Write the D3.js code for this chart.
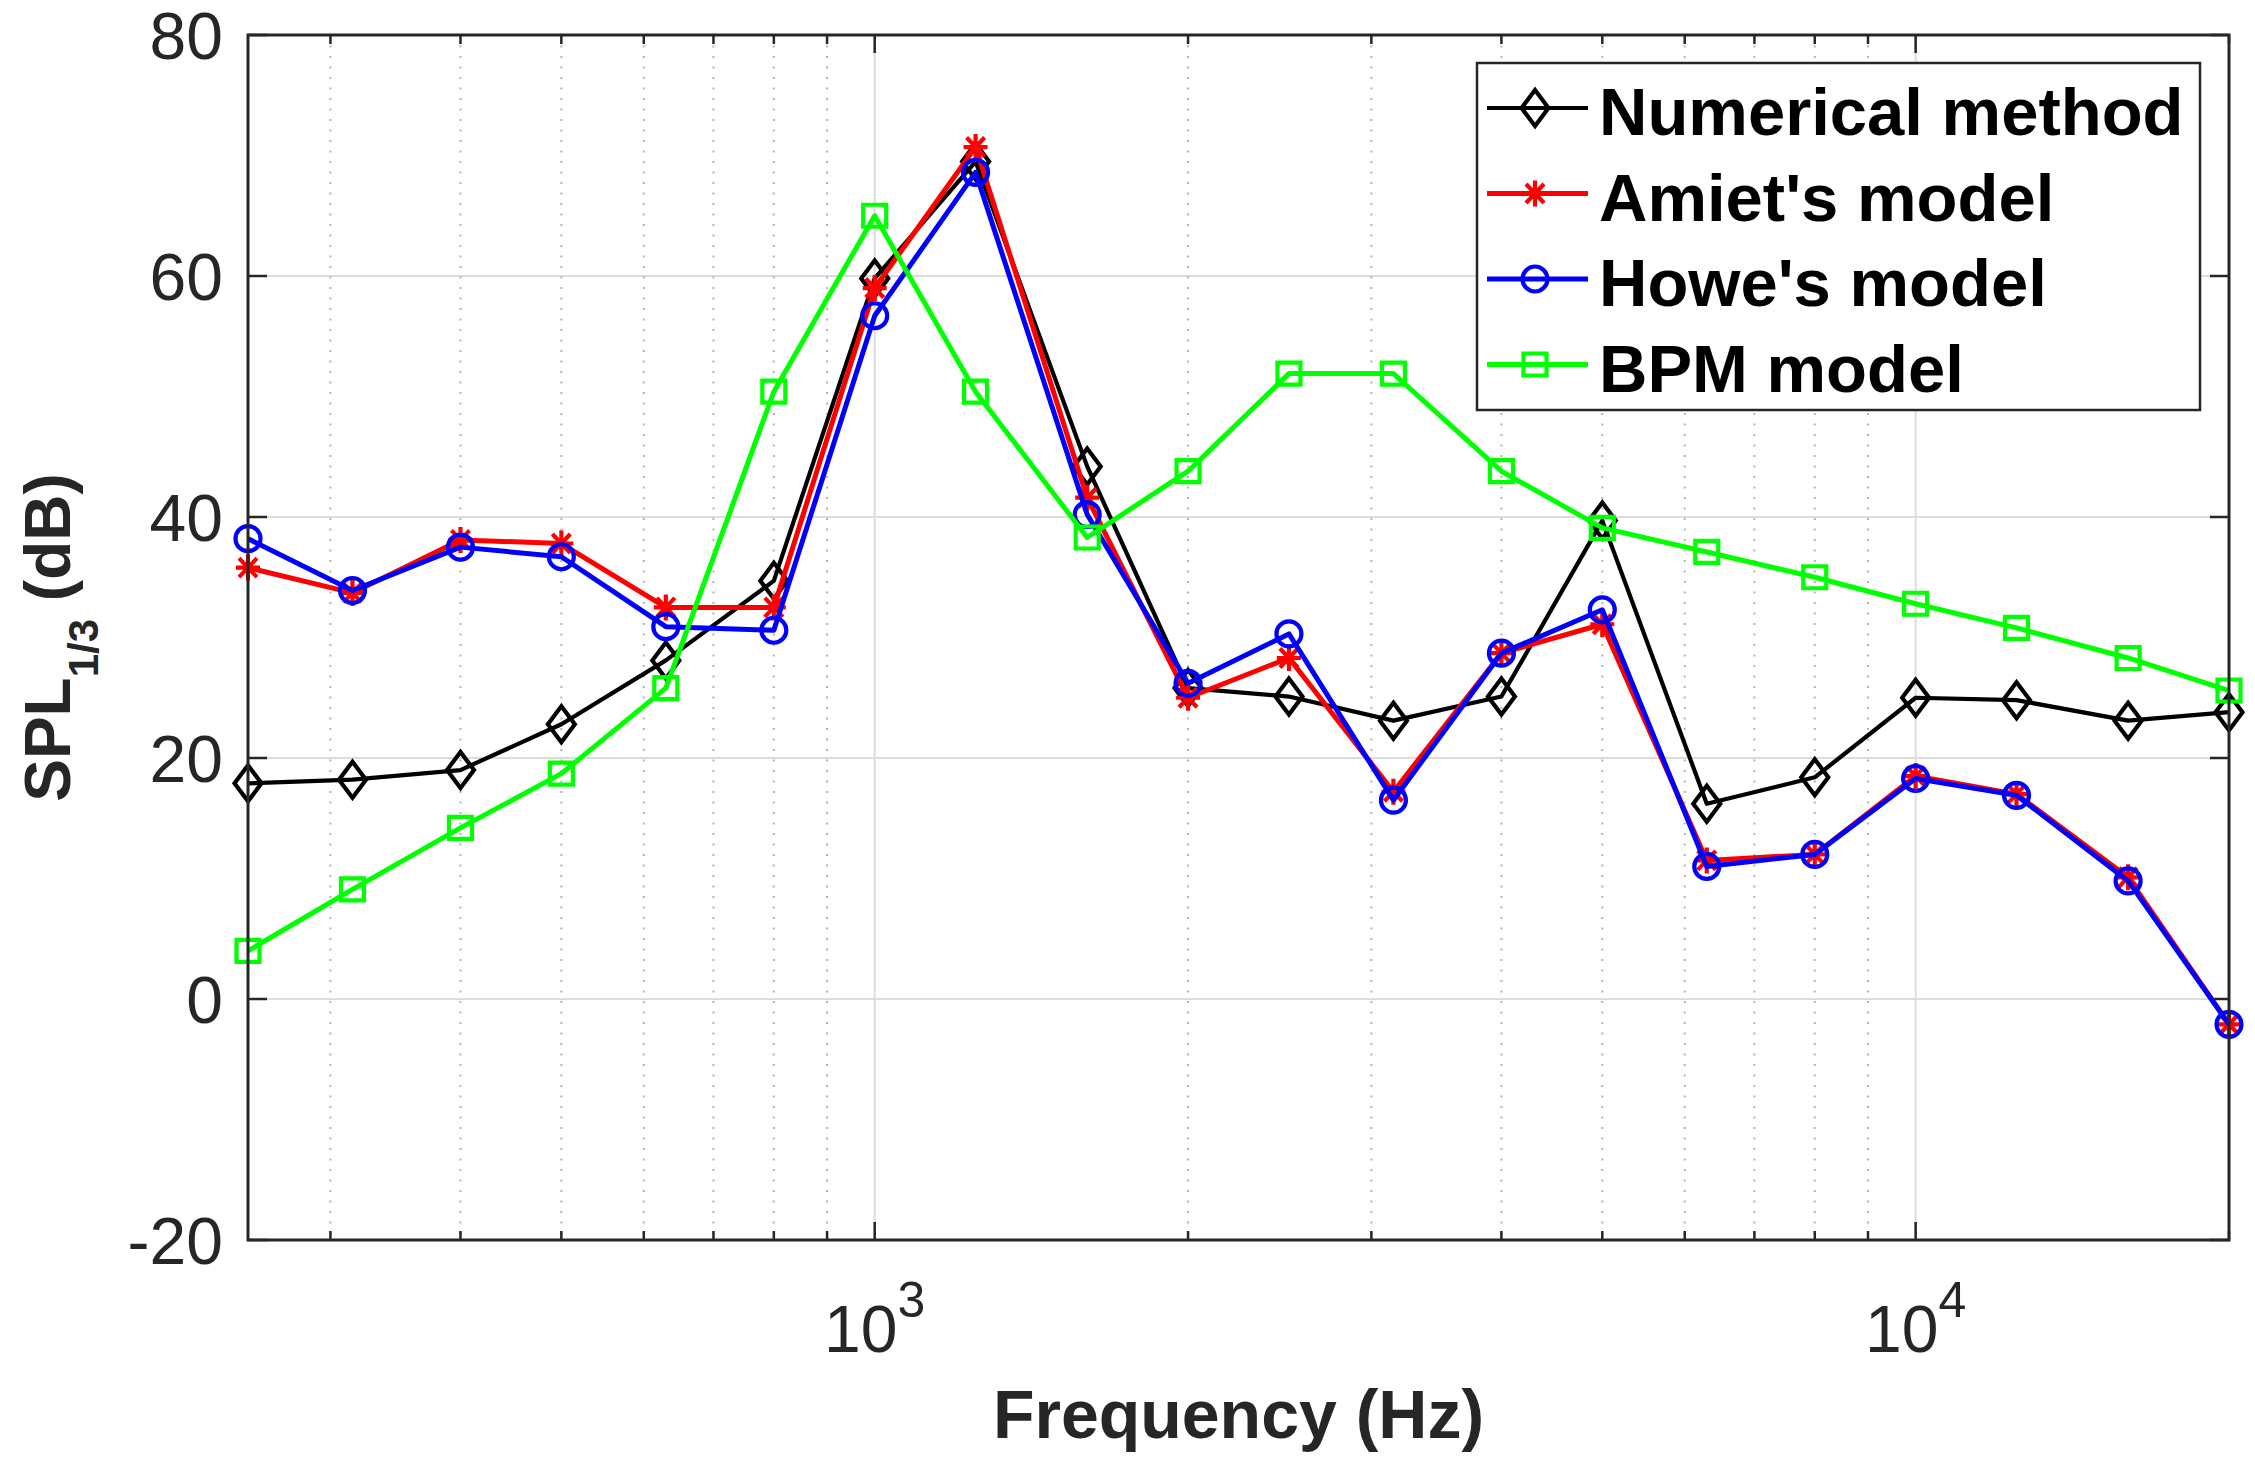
<!DOCTYPE html>
<html>
<head>
<meta charset="utf-8">
<script src="https://cdn.jsdelivr.net/npm/d3@7"></script>
<style>
  html, body { margin: 0; padding: 0; background: #fff; }
  svg text { font-family: "Liberation Sans", Arial, Helvetica, sans-serif; fill: #262626; }
</style>
</head>
<body>
<svg id="chart" width="2255" height="1466"></svg>
<script>
// third-octave band centres (Hz)
const freqs = [250, 315, 400, 500, 630, 800, 1000, 1250, 1600, 2000, 2500, 3150, 4000, 5000, 6300, 8000, 10000, 12500, 16000, 20000];

// SPL 1/3 (dB)
const numerical = [17.9, 18.2, 19.0, 22.8, 28.1, 34.7, 59.8, 69.5, 44.2, 25.8, 25.1, 23.1, 25.1, 39.7, 16.2, 18.4, 25.0, 24.8, 23.1, 23.8];
const amiet     = [35.8, 33.7, 38.1, 37.8, 32.5, 32.5, 59.0, 70.7, 41.6, 25.0, 28.3, 17.2, 28.7, 31.1, 11.5, 12.0, 18.5, 17.0, 10.1, -2.1];
const howe      = [38.2, 33.9, 37.5, 36.7, 30.9, 30.6, 56.7, 68.6, 40.2, 26.2, 30.3, 16.5, 28.7, 32.3, 11.0, 12.0, 18.3, 16.9, 9.8, -2.1];
const bpm       = [4.0, 9.1, 14.2, 18.7, 25.8, 50.4, 65.0, 50.4, 38.3, 43.8, 51.9, 51.9, 43.8, 39.1, 37.1, 35.0, 32.8, 30.8, 28.3, 25.6];

const seriesNames = ["Numerical method", "Amiet's model", "Howe's model", "BPM model"];
const yTicks = [-20, 0, 20, 40, 60, 80];
const xMajor = [1000, 10000];
const xMinor = [300, 400, 500, 600, 700, 800, 900, 2000, 3000, 4000, 5000, 6000, 7000, 8000, 9000, 20000];

const series = [
  { name: seriesNames[0], values: numerical, color: "#000000", marker: "diamond", width: 4.2 },
  { name: seriesNames[1], values: amiet, color: "#ff0000", marker: "asterisk", width: 5 },
  { name: seriesNames[2], values: howe, color: "#0000ff", marker: "circle", width: 5 },
  { name: seriesNames[3], values: bpm, color: "#00ff00", marker: "square", width: 5 }
];

const svg = d3.select("#chart");
const pLeft = 248, pRight = 2229, pTop = 35, pBottom = 1240;

const x = d3.scaleLog().domain([250, 20000]).range([pLeft, pRight]);
const y = d3.scaleLinear().domain([-20, 80]).range([pBottom, pTop]);

// grid
const grid = svg.append("g");
grid.selectAll("line.h").data(yTicks).join("line")
  .attr("x1", pLeft).attr("x2", pRight)
  .attr("y1", d => y(d)).attr("y2", d => y(d))
  .attr("stroke", "#dcdcdc").attr("stroke-width", 2);
grid.selectAll("line.vmaj").data(xMajor).join("line")
  .attr("x1", d => x(d)).attr("x2", d => x(d))
  .attr("y1", pTop).attr("y2", pBottom)
  .attr("stroke", "#dcdcdc").attr("stroke-width", 2);
grid.selectAll("line.vmin").data(xMinor).join("line")
  .attr("x1", d => x(d)).attr("x2", d => x(d))
  .attr("y1", pTop).attr("y2", pBottom)
  .attr("stroke", "#b4b4b4").attr("stroke-width", 2)
  .attr("stroke-dasharray", "2 8.5");

// ticks (inward, all four sides)
const ticks = svg.append("g").attr("stroke", "#262626").attr("stroke-width", 2.5);
yTicks.forEach(t => {
  ticks.append("line").attr("x1", pLeft).attr("x2", pLeft + 19).attr("y1", y(t)).attr("y2", y(t));
  ticks.append("line").attr("x1", pRight).attr("x2", pRight - 19).attr("y1", y(t)).attr("y2", y(t));
});
xMajor.forEach(t => {
  ticks.append("line").attr("x1", x(t)).attr("x2", x(t)).attr("y1", pBottom).attr("y2", pBottom - 18);
  ticks.append("line").attr("x1", x(t)).attr("x2", x(t)).attr("y1", pTop).attr("y2", pTop + 18);
});
xMinor.forEach(t => {
  ticks.append("line").attr("x1", x(t)).attr("x2", x(t)).attr("y1", pBottom).attr("y2", pBottom - 9);
  ticks.append("line").attr("x1", x(t)).attr("x2", x(t)).attr("y1", pTop).attr("y2", pTop + 9);
});

// tick labels
svg.append("g").selectAll("text").data(yTicks).join("text")
  .attr("x", pLeft - 25).attr("y", d => y(d) + 24)
  .attr("text-anchor", "end").attr("font-size", 66)
  .text(d => d);

const xl = svg.append("g").selectAll("text").data(xMajor).join("text")
  .attr("x", d => x(d)).attr("y", 1352)
  .attr("text-anchor", "middle").attr("font-size", 66);
xl.append("tspan").text("10");
xl.append("tspan").attr("font-size", 50).attr("dy", -35).text(d => Math.round(Math.log10(d)));

// axis labels
svg.append("text")
  .attr("x", (pLeft + pRight) / 2).attr("y", 1438)
  .attr("text-anchor", "middle").attr("font-size", 68).attr("font-weight", "bold")
  .text("Frequency (Hz)");

const yl = svg.append("text")
  .attr("transform", `translate(70,${(pTop + pBottom) / 2}) rotate(-90)`)
  .attr("text-anchor", "middle").attr("font-size", 64).attr("font-weight", "bold");
yl.append("tspan").text("SPL");
yl.append("tspan").attr("font-size", 42).attr("dy", 28).text("1/3");
yl.append("tspan").attr("dy", -28).text(" (dB)");

// marker shapes
const markerPath = (type) => {
  switch (type) {
    case "diamond": return "M0,-18L13.5,0L0,18L-13.5,0Z";
    case "asterisk": return "M-12,0H12M0,-13V13M-9,-9.5L9,9.5M-9,9.5L9,-9.5";
    case "circle": return d3.arc()({ innerRadius: 0, outerRadius: 12.5, startAngle: 0, endAngle: 2 * Math.PI });
    case "square": return "M-11.5,-11L11.5,-11L11.5,11L-11.5,11Z";
  }
};

// series
const line = d3.line().x(d => x(d[0])).y(d => y(d[1]));
series.forEach(s => {
  const pts = freqs.map((f, i) => [f, s.values[i]]);
  const g = svg.append("g");
  g.append("path").datum(pts)
    .attr("d", line).attr("fill", "none")
    .attr("stroke", s.color).attr("stroke-width", s.width)
    .attr("stroke-linejoin", "round");
  g.selectAll("path.m").data(pts).join("path")
    .attr("class", "m")
    .attr("transform", d => `translate(${x(d[0])},${y(d[1])})`)
    .attr("d", markerPath(s.marker))
    .attr("fill", "none").attr("stroke", s.color).attr("stroke-width", 4.2);
});

// axes box
svg.append("rect")
  .attr("x", pLeft).attr("y", pTop).attr("width", pRight - pLeft).attr("height", pBottom - pTop)
  .attr("fill", "none").attr("stroke", "#262626").attr("stroke-width", 3);

// legend
const lg = svg.append("g");
lg.append("rect").attr("x", 1477).attr("y", 63).attr("width", 723).attr("height", 347)
  .attr("fill", "#fff").attr("stroke", "#262626").attr("stroke-width", 2.5);
series.forEach((s, i) => {
  const cy = 108 + i * 85.5;
  lg.append("line").attr("x1", 1487).attr("x2", 1588).attr("y1", cy).attr("y2", cy)
    .attr("stroke", s.color).attr("stroke-width", s.width);
  lg.append("path").attr("transform", `translate(1535,${cy})`)
    .attr("d", markerPath(s.marker))
    .attr("fill", "none").attr("stroke", s.color).attr("stroke-width", 4.2);
  lg.append("text").attr("x", 1599).attr("y", cy + 27)
    .attr("font-size", 67).attr("font-weight", "bold").style("fill", "#000")
    .text(s.name);
});
</script>
</body>
</html>
